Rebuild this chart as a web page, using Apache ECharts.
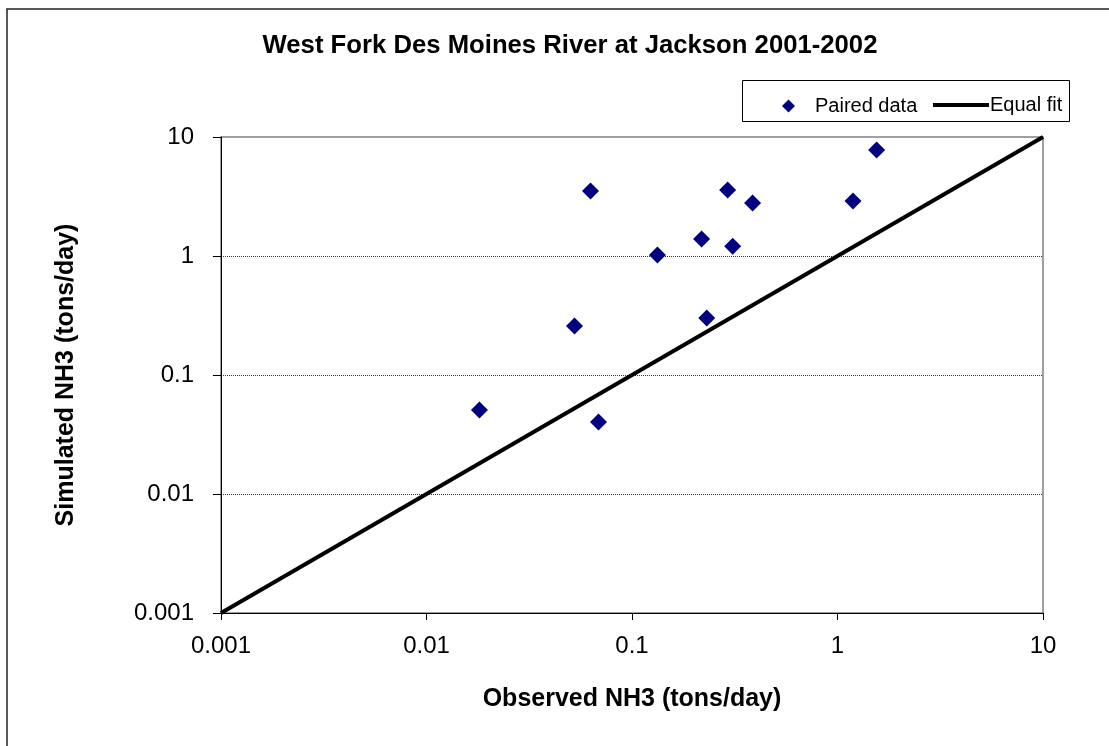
<!DOCTYPE html>
<html>
<head>
<meta charset="utf-8">
<script src="https://cdn.jsdelivr.net/npm/echarts@6/dist/echarts.min.js"></script>
<style>html,body{margin:0;padding:0;background:#fff}#c{width:1109px;height:746px}</style>
</head>
<body>
<div id="c"></div>
<script>
const observed = [0.0181, 0.0525, 0.0628, 0.0687, 0.133, 0.218, 0.231, 0.292, 0.309, 0.386, 1.19, 1.55];
const simulated = [0.0508, 0.258, 3.52, 0.0403, 1.02, 1.39, 0.301, 3.59, 1.21, 2.79, 2.90, 7.78];
const equalFitX = [0.001, 10];
const tickLabels = ['0.001', '0.01', '0.1', '1', '10'];

const font = 'Arial, "Liberation Sans", sans-serif';
const chart = echarts.init(document.getElementById('c'));
const fmt = v => {
  const lbl = tickLabels.find(t => Math.abs(parseFloat(t) - v) / v < 1e-6);
  return lbl || '';
};
chart.setOption({
  animation: false,
  title: {
    text: 'West Fork Des Moines River at Jackson 2001-2002',
    left: 565, top: 28, textAlign: 'center',
    textStyle: { fontFamily: font, fontSize: 25.7, fontWeight: 'bold', color: '#000' }
  },
  graphic: [
    { type: 'rect', shape: { x: 7, y: 9, width: 1200, height: 800 }, style: { fill: null, stroke: '#222', lineWidth: 1.5 }, silent: true },
    { type: 'rect', shape: { x: 742.5, y: 80.5, width: 327, height: 41 }, style: { fill: '#fff', stroke: '#000', lineWidth: 1 }, z: 0 }
  ],
  legend: [
    {
      data: [{ name: 'Paired data', icon: 'diamond' }],
      left: 777, top: 91, itemWidth: 13, itemHeight: 13, itemGap: 0,
      textStyle: { fontFamily: font, fontSize: 20, color: '#000', padding: [0, 0, 0, 15] },
      z: 5
    },
    {
      data: [{ name: 'Equal fit', icon: 'rect' }],
      left: 928, top: 90, itemWidth: 56, itemHeight: 4,
      textStyle: { fontFamily: font, fontSize: 20, color: '#000', padding: [0, 0, 0, -4] },
      z: 5
    }
  ],
  grid: { left: 221, right: 66, top: 137, bottom: 133, show: true, borderColor: '#808080', borderWidth: 1.5, containLabel: false },
  xAxis: {
    type: 'log', logBase: 10, min: 0.001, max: 10,
    name: 'Observed NH3 (tons/day)', nameLocation: 'middle', nameGap: 74,
    nameTextStyle: { fontFamily: font, fontSize: 25, fontWeight: 'bold', color: '#000' },
    axisLine: { lineStyle: { color: '#000', width: 1 } },
    axisTick: { show: true, length: 7, inside: false, lineStyle: { color: '#000' } },
    minorTick: { show: false },
    axisLabel: { fontFamily: font, fontSize: 24, color: '#000', margin: 21, formatter: fmt },
    splitLine: { show: false }
  },
  yAxis: {
    type: 'log', logBase: 10, min: 0.001, max: 10,
    name: 'Simulated NH3 (tons/day)', nameLocation: 'middle', nameGap: 142,
    nameTextStyle: { fontFamily: font, fontSize: 25, fontWeight: 'bold', color: '#000' },
    axisLine: { lineStyle: { color: '#000', width: 1 } },
    axisTick: { show: true, length: 8, inside: false, lineStyle: { color: '#000' } },
    axisLabel: { fontFamily: font, fontSize: 24, color: '#000', margin: 27, formatter: fmt },
    splitLine: { show: true, lineStyle: { color: ['rgba(0,0,0,0)', '#333', '#333', '#333', 'rgba(0,0,0,0)'], type: [1, 1], width: 1 } }
  },
  series: [
    {
      name: 'Paired data', type: 'scatter', symbol: 'diamond', symbolSize: 17,
      itemStyle: { color: '#000080', opacity: 1 },
      data: observed.map((x, i) => [x, simulated[i]]), z: 4
    },
    {
      name: 'Equal fit', type: 'line', symbol: 'none', showSymbol: false,
      lineStyle: { color: '#000', width: 4 }, itemStyle: { color: '#000' },
      data: equalFitX.map(x => [x, x]), z: 3
    }
  ]
});
</script>
</body>
</html>
